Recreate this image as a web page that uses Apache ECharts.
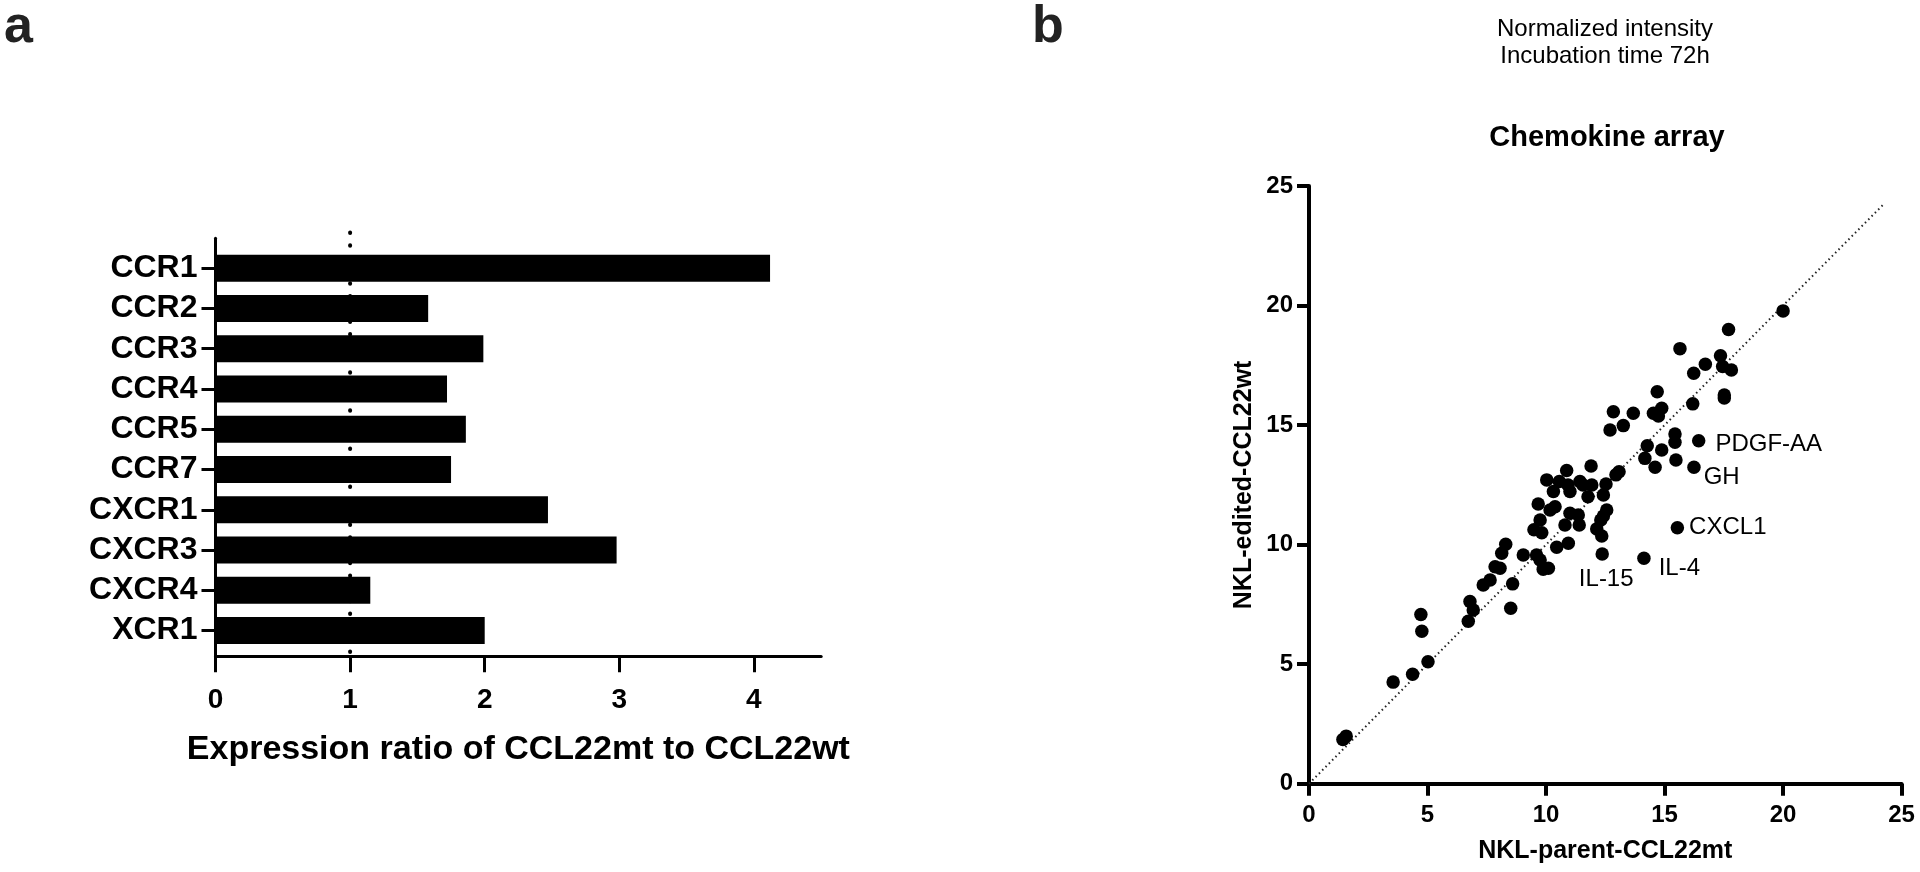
<!DOCTYPE html>
<html>
<head>
<meta charset="utf-8">
<script src="https://cdn.jsdelivr.net/npm/echarts@6/dist/echarts.min.js"></script>
<style>
html,body{margin:0;padding:0;background:#fff;}
#chart{width:1920px;height:872px;}
</style>
</head>
<body>
<div id="chart"></div>
<script>
// ---------- Panel a data ----------
const receptors = ['CCR1','CCR2','CCR3','CCR4','CCR5','CCR7','CXCR1','CXCR3','CXCR4','XCR1'];
const expressionRatio = [4.12,1.58,1.99,1.72,1.86,1.75,2.47,2.98,1.15,2.00];
const ratioTicks = [0,1,2,3,4];
const referenceRatio = 1;

// ---------- Panel b data ----------
const parentX = [14.69,17.52,17.52,16.19,14.88,14.53,14.74,12.84,13.68,12.70,13.26,15.44,15.44,14.27,14.88,14.17,14.60,15.48,
  13.08,12.95,11.90,10.87,10.03,10.31,10.56,11.01,10.93,11.43,11.56,11.93,11.77,12.53,12.42,9.67,10.17,10.38,9.75,9.49,9.82,
  11.01,11.36,11.40,10.80,12.56,12.42,12.31,12.14,12.35,10.94,10.45,8.30,8.13,9.04,9.60,9.75,9.88,10.10,7.85,8.06,7.64,7.35,
  8.59,6.79,6.93,8.51,20.0,17.70,15.65,17.36,16.72,16.23,17.45,17.82,6.72,4.72,4.76,5.02,4.37,3.55,1.43,1.57];
const editedY = [16.40,16.26,16.14,15.89,15.71,15.50,15.38,15.56,15.50,14.80,14.98,14.63,14.28,14.14,13.96,13.61,13.24,13.54,
  13.05,12.92,13.29,13.10,12.71,12.22,12.64,12.22,12.50,12.64,12.50,12.50,12.00,12.54,12.08,11.70,11.45,11.59,11.03,10.62,10.50,
  11.31,11.24,10.82,10.82,11.45,11.20,11.03,10.66,10.36,10.06,9.89,10.02,9.64,9.57,9.57,9.36,8.97,9.01,9.08,9.01,8.52,8.31,
  8.36,7.62,7.27,7.34,19.78,19.00,18.20,17.90,17.55,17.17,17.45,17.31,6.80,7.08,6.38,5.10,4.58,4.25,1.85,1.99];
const namedPoints = ['PDGF-AA','GH','CXCL1','IL-4','IL-15'];
const namedX = [16.44,16.24,15.54,14.13,12.37];
const namedY = [14.35,13.24,10.71,9.43,9.61];
const identityLine = [[0,0],[24.2,24.2]];

// ---------- styling ----------
const FONT = "'Liberation Sans', Arial, Helvetica, sans-serif";
const labelStyle = {
  'PDGF-AA': {position:'right', distance:10, offset:[0,4]},
  'GH':      {position:'right', distance:3, offset:[0,10]},
  'CXCL1':   {position:'right', distance:5, offset:[0,0]},
  'IL-4':    {position:'right', distance:8, offset:[0,10]},
  'IL-15':   {position:'bottom', distance:7, offset:[4,0]}
};

const plainPoints = parentX.map((x,i)=>[x, editedY[i]]);
const labelled = namedPoints.map((n,i)=>({
  name:n,
  value:[namedX[i], namedY[i]],
  label:Object.assign({show:true, formatter:n, color:'#000', opacity:1, fontFamily:FONT, fontSize:24}, labelStyle[n])
}));

const chart = echarts.init(document.getElementById('chart'), null, {renderer:'canvas'});

const gridA = {left:215.5, top:248, width:605.7, height:402.7};
const gridB = {left:215.5, top:238.3, width:605.7, height:418};
const gridC = {left:1309, top:186.1, width:592.6, height:597.6};

const option = {
  backgroundColor:'#fff',
  animation:false,
  grid:[
    Object.assign({containLabel:false}, gridA),
    Object.assign({containLabel:false}, gridB),
    Object.assign({containLabel:false}, gridC)
  ],
  xAxis:[
    {gridIndex:0, type:'value', min:0, max:4.5, show:false},
    {gridIndex:1, type:'value', min:0, max:4.5, interval:1,
      axisLine:{show:true, lineStyle:{color:'#000', width:3}},
      axisTick:{show:true, length:16, lineStyle:{color:'#000', width:3}, customValues:ratioTicks},
      axisLabel:{show:true, customValues:ratioTicks, color:'#000', fontFamily:FONT, fontWeight:'bold', fontSize:28, margin:30},
      splitLine:{show:false},
      name:'Expression ratio of CCL22mt to CCL22wt', nameLocation:'middle', nameGap:76,
      nameTextStyle:{color:'#000', fontFamily:FONT, fontWeight:'bold', fontSize:34}
    },
    {gridIndex:2, type:'value', min:0, max:25, interval:5,
      axisLine:{show:true, onZero:false, lineStyle:{color:'#000', width:4}},
      axisTick:{show:true, length:12, lineStyle:{color:'#000', width:4}},
      axisLabel:{color:'#000', fontFamily:FONT, fontWeight:'bold', fontSize:24, margin:20},
      splitLine:{show:false},
      name:'NKL-parent-CCL22mt', nameLocation:'middle', nameGap:55,
      nameTextStyle:{color:'#000', fontFamily:FONT, fontWeight:'bold', fontSize:25}
    }
  ],
  yAxis:[
    {gridIndex:0, type:'category', data:receptors, inverse:true,
      axisLine:{show:false},
      axisTick:{show:true, interval:0, alignWithLabel:true, length:14, lineStyle:{color:'#000', width:3}},
      axisLabel:{interval:0, color:'#000', fontFamily:FONT, fontWeight:'bold', fontSize:32, margin:18},
      splitLine:{show:false}
    },
    {gridIndex:1, type:'value', min:0, max:1,
      axisLine:{show:true, lineStyle:{color:'#000', width:3}},
      axisTick:{show:false}, axisLabel:{show:false}, splitLine:{show:false}
    },
    {gridIndex:2, type:'value', min:0, max:25, interval:5,
      axisLine:{show:true, onZero:false, lineStyle:{color:'#000', width:4}},
      axisTick:{show:true, length:12, lineStyle:{color:'#000', width:4}},
      axisLabel:{color:'#000', fontFamily:FONT, fontWeight:'bold', fontSize:24, margin:16},
      splitLine:{show:false},
      name:'NKL-edited-CCL22wt', nameLocation:'middle', nameGap:52, nameRotate:90,
      nameTextStyle:{color:'#000', fontFamily:FONT, fontWeight:'bold', fontSize:25}
    }
  ],
  series:[
    {type:'line', xAxisIndex:1, yAxisIndex:1, z:1, silent:true, symbol:'none', clip:false,
      data:[[referenceRatio,0.01],[referenceRatio,1.03]],
      lineStyle:{color:'#000', width:4, type:[0.5,12.2], cap:'round'}
    },
    {type:'bar', xAxisIndex:0, yAxisIndex:0, z:3, data:expressionRatio,
      barCategoryGap:'33%', itemStyle:{color:'#000'}
    },
    {type:'line', xAxisIndex:2, yAxisIndex:2, z:1, silent:true, symbol:'none',
      data:identityLine,
      lineStyle:{color:'#222', width:2, type:[1.5,3.2]}
    },
    {type:'scatter', xAxisIndex:2, yAxisIndex:2, z:3, symbolSize:13.5,
      itemStyle:{color:'#000', opacity:1},
      data:plainPoints.concat(labelled)
    }
  ],
  graphic:[
    {type:'text', left:4, top:2, style:{text:'a', font:"bold 52px " + FONT, fill:'#222'}},
    {type:'text', left:1032, top:2, style:{text:'b', font:"bold 52px " + FONT, fill:'#222'}},
    {type:'text', x:1605, y:29.5, style:{text:'Normalized intensity', font:"24px " + FONT, fill:'#000', align:'center', verticalAlign:'middle'}},
    {type:'text', x:1605, y:56.5, style:{text:'Incubation time 72h', font:"24px " + FONT, fill:'#000', align:'center', verticalAlign:'middle'}},
    {type:'text', x:1607, y:138, style:{text:'Chemokine array', font:"bold 29px " + FONT, fill:'#000', align:'center', verticalAlign:'middle'}}
  ]
};
chart.setOption(option);
</script>
</body>
</html>
